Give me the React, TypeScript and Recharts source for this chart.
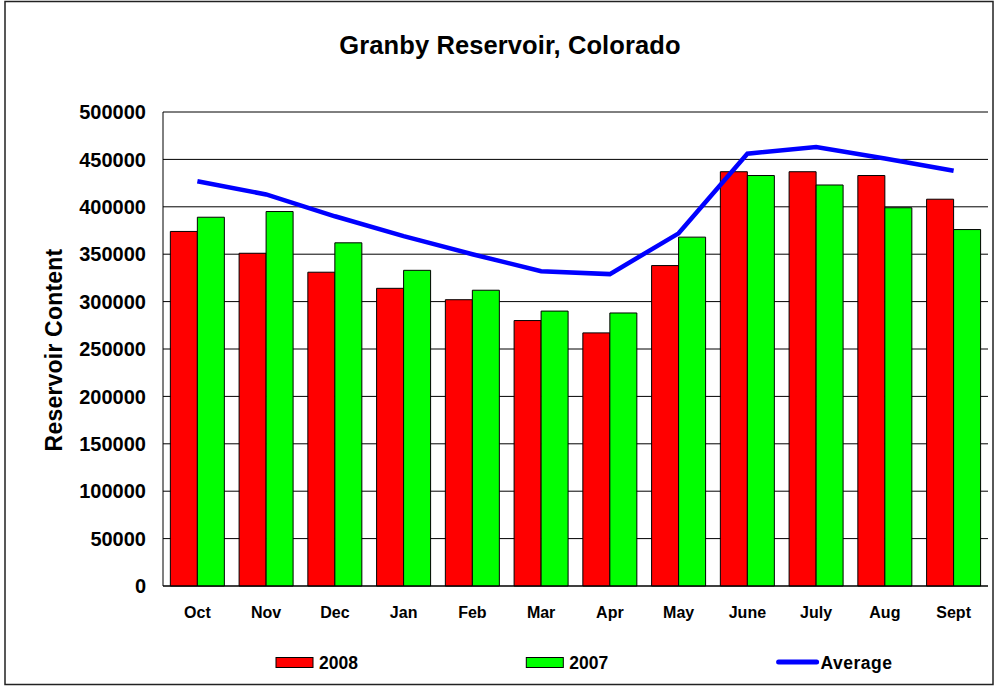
import React from 'react';
import { ComposedChart, Bar, Line, XAxis, YAxis, CartesianGrid } from 'recharts';

const categories = ['Oct', 'Nov', 'Dec', 'Jan', 'Feb', 'Mar', 'Apr', 'May', 'June', 'July', 'Aug', 'Sept'];
const values2008 = [374000, 351000, 331000, 314000, 302000, 280000, 267000, 338000, 437000, 437000, 433000, 408000];
const values2007 = [389000, 395000, 362000, 333000, 312000, 290000, 288000, 368000, 433000, 423000, 399000, 376000];
const averageValues = [427000, 413000, 390000, 369000, 350000, 332000, 329000, 372000, 456000, 463000, 451000, 438000];
const yTicks = [0, 50000, 100000, 150000, 200000, 250000, 300000, 350000, 400000, 450000, 500000];

const seriesInfo = [
  { key: 'y2008', name: '2008', color: '#ff0000', kind: 'bar' },
  { key: 'y2007', name: '2007', color: '#00ff00', kind: 'bar' },
  { key: 'avg', name: 'Average', color: '#0000ff', kind: 'line' },
];

const data = categories.map((month, i) => ({
  month,
  y2008: values2008[i],
  y2007: values2007[i],
  avg: averageValues[i],
}));

const FONT = '"Liberation Sans", Arial, Helvetica, sans-serif';

export default function App() {
  return (
    <div style={{ position: 'absolute', left: 0, top: 0, width: 997, height: 687, background: '#fff', fontFamily: FONT }}>
      <ComposedChart
        width={997}
        height={687}
        data={data}
        margin={{ top: 112, right: 9, bottom: 61, left: 0 }}
        barCategoryGap="10.7%"
        barGap={0}
      >
        <CartesianGrid vertical={false} stroke="#000" strokeWidth={1} />
        <XAxis
          dataKey="month"
          height={40}
          interval={0}
          axisLine={{ stroke: '#000', strokeWidth: 1 }}
          tickLine={false}
          tickSize={0}
          tickMargin={21}
          tick={{ fill: '#000', fontSize: 16, fontWeight: 'bold', fontFamily: FONT }}
        />
        <YAxis
          width={163}
          domain={[0, 500000]}
          ticks={yTicks}
          interval={0}
          axisLine={{ stroke: '#000', strokeWidth: 1 }}
          tickLine={false}
          tickSize={0}
          tickMargin={17}
          tick={{ fill: '#000', fontSize: 20, fontWeight: 'bold', fontFamily: FONT }}
        />
        <YAxis
          yAxisId="right"
          orientation="right"
          width={0}
          domain={[0, 500000]}
          ticks={yTicks}
          tick={false}
          tickLine={false}
          axisLine={{ stroke: '#000', strokeWidth: 1 }}
        />
        <Bar dataKey="y2008" name="2008" fill="#ff0000" stroke="#000" strokeWidth={1} isAnimationActive={false} />
        <Bar dataKey="y2007" name="2007" fill="#00ff00" stroke="#000" strokeWidth={1} isAnimationActive={false} />
        <Line
          type="linear"
          dataKey="avg"
          name="Average"
          stroke="#0000ff"
          strokeWidth={4.5}
          dot={false}
          activeDot={false}
          isAnimationActive={false}
        />
      </ComposedChart>
      <svg
        width={997}
        height={687}
        style={{ position: 'absolute', left: 0, top: 0, pointerEvents: 'none' }}
      >
        <rect x={5} y={1.5} width={988} height={683} fill="none" stroke="#222" strokeWidth={1.5} />
        <text
          x={510}
          y={53.5}
          textAnchor="middle"
          fontFamily={FONT}
          fontWeight="bold"
          fontSize={25.5}
          letterSpacing={0.1}
          fill="#000"
        >
          Granby Reservoir, Colorado
        </text>
        <text
          x={61.5}
          y={350}
          transform="rotate(-90 61.5 350)"
          textAnchor="middle"
          fontFamily={FONT}
          fontWeight="bold"
          fontSize={23}
          letterSpacing={0.2}
          fill="#000"
        >
          Reservoir Content
        </text>
        {seriesInfo.map((s, i) => {
          const x0 = 276 + i * 250.3;
          return (
            <g key={s.key}>
              {s.kind === 'bar' ? (
                <rect x={x0} y={657.5} width={37} height={10} fill={s.color} stroke="#000" strokeWidth={1} />
              ) : (
                <line x1={x0 + 2} y1={662} x2={x0 + 40} y2={662} stroke={s.color} strokeWidth={5} strokeLinecap="round" />
              )}
              <text
                x={x0 + (s.kind === 'bar' ? 43 : 44)}
                y={669}
                fontFamily={FONT}
                fontWeight="bold"
                fontSize={17.5}
                letterSpacing={s.kind === 'bar' ? 0 : 0.5}
                fill="#000"
              >
                {s.name}
              </text>
            </g>
          );
        })}
      </svg>
    </div>
  );
}
